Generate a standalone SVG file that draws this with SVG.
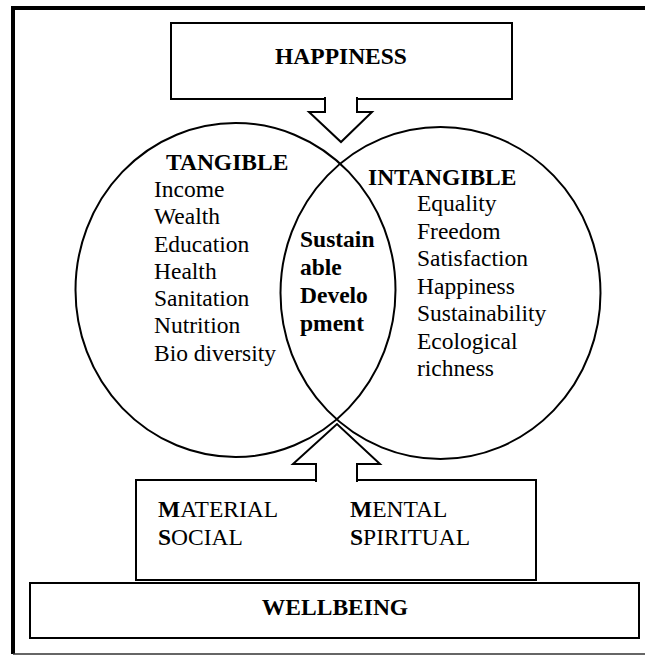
<svg xmlns="http://www.w3.org/2000/svg" width="645" height="655" viewBox="0 0 645 655">
<style>
text{font-family:"Liberation Serif","Times New Roman",serif;font-size:23.5px;fill:#000}
.b{font-weight:bold}
.shape{fill:#fff;stroke:#000;stroke-width:2}
.ring{fill:none;stroke:#000;stroke-width:2}
.arrow{fill:#fff;stroke:#000;stroke-width:2;stroke-linejoin:miter}
</style>
<rect width="645" height="655" fill="#fff"/>
<g id="frame">
<path d="M13,654 V8 H646" fill="none" stroke="#000" stroke-width="4"/>
<path d="M13,654 H646" fill="none" stroke="#333" stroke-width="1.5"/>
</g>
<g id="happiness">
<rect class="shape" x="171" y="23" width="341" height="76"/>
<text class="b" x="341" y="64" text-anchor="middle">HAPPINESS</text>
</g>
<g id="wellbeing">
<rect class="shape" x="30" y="583" width="609" height="55" stroke-width="1.8"/>
<text class="b" x="335" y="615" text-anchor="middle">WELLBEING</text>
</g>
<g id="dimensions">
<rect class="shape" x="136" y="480" width="400" height="100"/>
<text x="158" y="517"><tspan class="b">M</tspan>ATERIAL</text>
<text x="158" y="545"><tspan class="b">S</tspan>OCIAL</text>
<text x="350" y="517"><tspan class="b">M</tspan>ENTAL</text>
<text x="350" y="545"><tspan class="b">S</tspan>PIRITUAL</text>
</g>
<g id="tangible">
<ellipse class="ring" cx="235.5" cy="290" rx="160" ry="167"/>
<text class="b" x="166" y="170">TANGIBLE</text>
<text x="154" y="197">Income</text>
<text x="154" y="224">Wealth</text>
<text x="154" y="252">Education</text>
<text x="154" y="279">Health</text>
<text x="154" y="306">Sanitation</text>
<text x="154" y="333">Nutrition</text>
<text x="154" y="361">Bio diversity</text>
</g>
<g id="intangible">
<ellipse class="ring" cx="440.5" cy="293" rx="160" ry="166"/>
<text class="b" x="368" y="185">INTANGIBLE</text>
<text x="417" y="211">Equality</text>
<text x="417" y="238.5">Freedom</text>
<text x="417" y="266">Satisfaction</text>
<text x="417" y="293.5">Happiness</text>
<text x="417" y="321">Sustainability</text>
<text x="417" y="348.5">Ecological</text>
<text x="417" y="376">richness</text>
</g>
<g id="sustainable-development">
<text class="b" x="300" y="247">Sustain</text>
<text class="b" x="300" y="275">able</text>
<text class="b" x="300" y="303">Develo</text>
<text class="b" x="300" y="331">pment</text>
</g>
<g id="connectors">
<path class="arrow" d="M325,97 V112 H309 L341,142 L372,112 H357 V97"/>
<path class="arrow" d="M316,482 V464 H293 L337,424 L380,464 H357 V482"/>
</g>
</svg>
